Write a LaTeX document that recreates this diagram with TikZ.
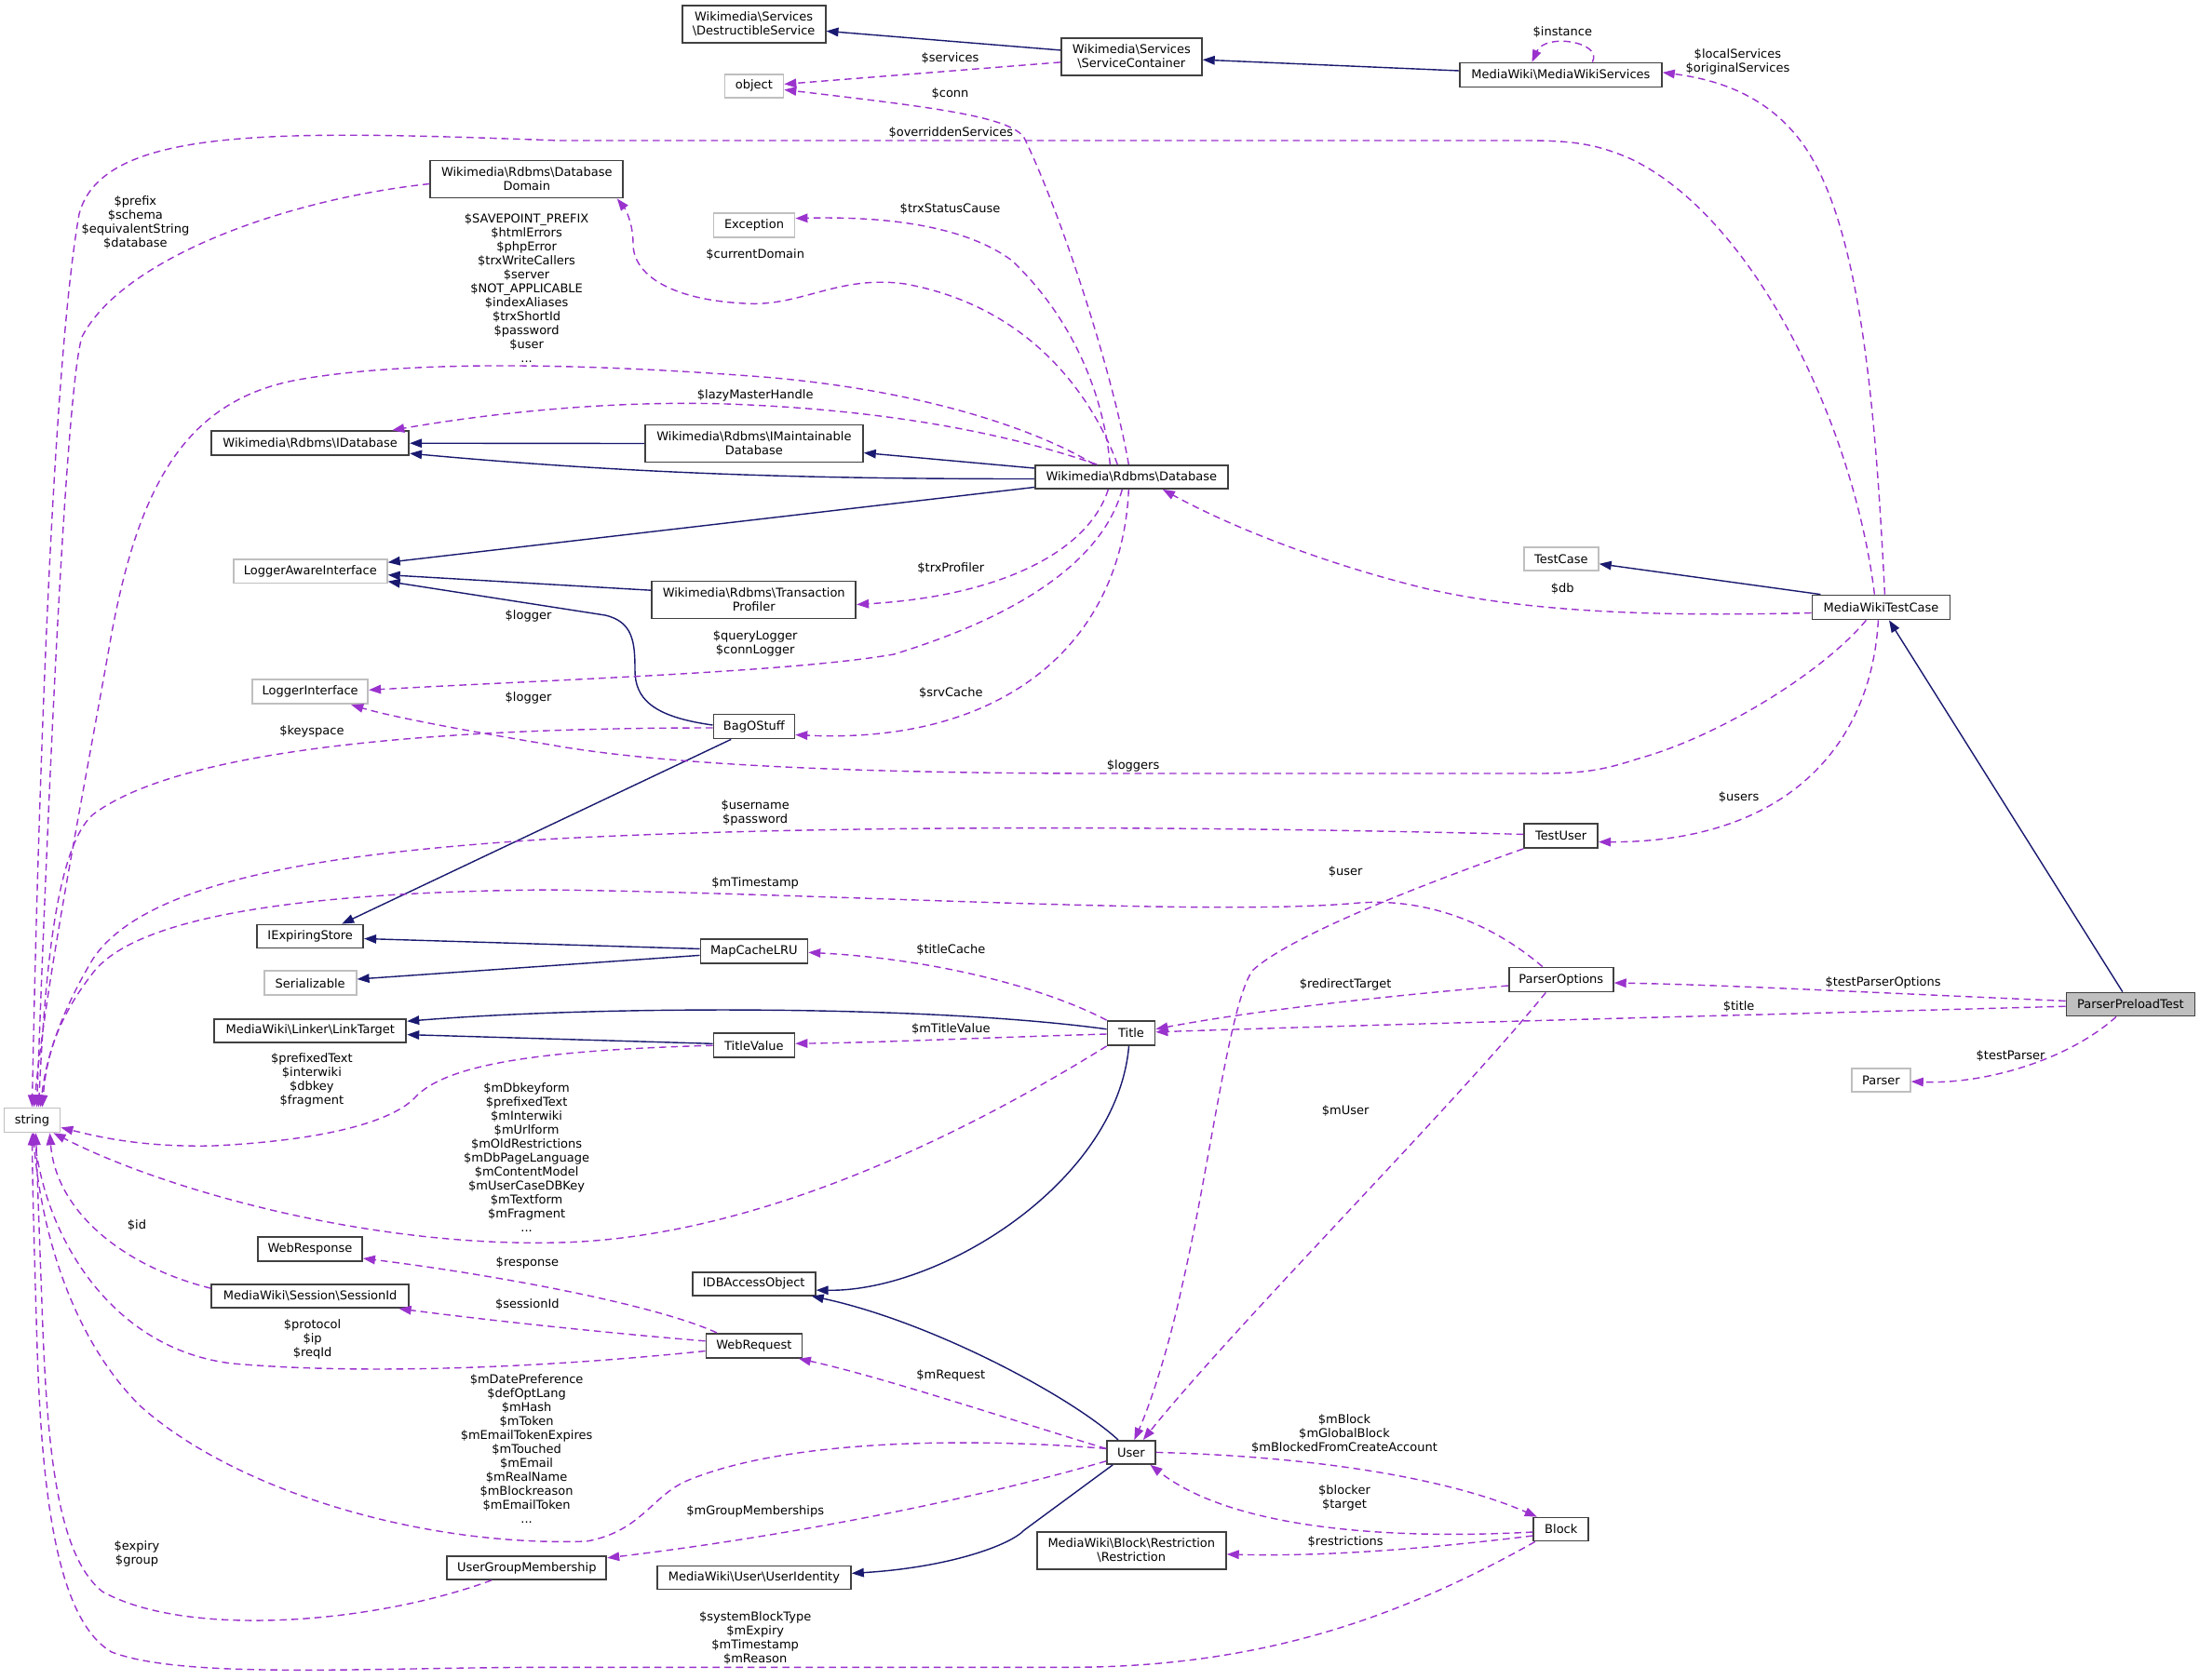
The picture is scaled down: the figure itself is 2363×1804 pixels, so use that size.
\documentclass[tikz,border=0pt]{standalone}
\usepackage{fontspec}
\setmainfont{DejaVu Sans}
\usetikzlibrary{arrows.meta}
\definecolor{inhc}{HTML}{191970}
\definecolor{usec}{HTML}{9A32CD}
\definecolor{bdrc}{HTML}{404040}
\definecolor{gbdrc}{HTML}{BFBFBF}
\newcommand{\bsl}{\textbackslash}
\begin{document}
\begin{tikzpicture}[x=1pt,y=-1pt,
  font=\fontsize{13}{15}\selectfont,
  cls/.style={draw=bdrc, line width=1.8pt, fill=white, inner sep=0pt, align=center},
  ext/.style={draw=gbdrc, line width=1.8pt, fill=white, inner sep=0pt, align=center},
  inh/.style={draw=inhc, line width=1.4pt, -{Triangle[length=13pt,width=9.5pt]}},
  usg/.style={draw=usec, line width=1.4pt, dash pattern=on 7.5pt off 5pt, -{Triangle[length=13pt,width=9.5pt]}},
  lbl/.style={align=center, inner sep=0pt},
]
\fill[white] (0,0) rectangle (2363,1804);
\useasboundingbox (0,0) rectangle (2363,1804);

% ---------------- nodes ----------------
\node[cls, minimum width=154pt, minimum height=40pt] (DS) at (809.6,25.9) {Wikimedia\bsl Services\\\bsl DestructibleService};
\node[cls, minimum width=151pt, minimum height=40pt] (SC) at (1215.3,60.9) {Wikimedia\bsl Services\\\bsl ServiceContainer};
\node[cls, minimum width=217pt, minimum height=26pt] (MWS) at (1676.4,80.5) {MediaWiki\bsl MediaWikiServices};
\node[ext, minimum width=63pt, minimum height=25pt] (object) at (809.9,92.4) {object};
\node[cls, minimum width=207pt, minimum height=40pt] (DBD) at (565.8,192.5) {Wikimedia\bsl Rdbms\bsl Database\\Domain};
\node[ext, minimum width=87pt, minimum height=26pt] (Exc) at (810,242) {Exception};
\node[cls, minimum width=212pt, minimum height=26pt] (IDB) at (333.2,476.2) {Wikimedia\bsl Rdbms\bsl IDatabase};
\node[cls, minimum width=234pt, minimum height=40pt] (IMD) at (809.9,476.5) {Wikimedia\bsl Rdbms\bsl IMaintainable\\Database};
\node[cls, minimum width=207pt, minimum height=25pt] (DB) at (1215.3,512.5) {Wikimedia\bsl Rdbms\bsl Database};
\node[ext, minimum width=165pt, minimum height=25.5pt] (LAI) at (333.3,613.7) {LoggerAwareInterface};
\node[cls, minimum width=219pt, minimum height=40pt] (TP) at (809.7,644.5) {Wikimedia\bsl Rdbms\bsl Transaction\\Profiler};
\node[ext, minimum width=80pt, minimum height=25pt] (TC) at (1676.8,600.3) {TestCase};
\node[cls, minimum width=148pt, minimum height=26pt] (MWTC) at (2020.4,652.5) {MediaWikiTestCase};
\node[ext, minimum width=124pt, minimum height=26pt] (LI) at (333.2,743.3) {LoggerInterface};
\node[cls, minimum width=87pt, minimum height=26pt] (BOS) at (809.9,780.5) {BagOStuff};
\node[cls, minimum width=79pt, minimum height=26pt] (TU) at (1676.6,898) {TestUser};
\node[cls, minimum width=114pt, minimum height=25pt] (IES) at (333.2,1006) {IExpiringStore};
\node[cls, minimum width=115pt, minimum height=26pt] (MCL) at (809.9,1021.7) {MapCacheLRU};
\node[ext, minimum width=99pt, minimum height=26pt] (Ser) at (333.2,1056.3) {Serializable};
\node[cls, minimum width=112pt, minimum height=26pt] (PO) at (1676.8,1052.5) {ParserOptions};
\node[cls, minimum width=206pt, minimum height=25pt] (LT) at (333.3,1107.1) {MediaWiki\bsl Linker\bsl LinkTarget};
\node[cls, minimum width=87pt, minimum height=26pt] (TV) at (809.9,1123.2) {TitleValue};
\node[cls, minimum width=51pt, minimum height=26pt] (Title) at (1215,1110) {Title};
\node[cls, fill=gbdrc, minimum width=138pt, minimum height=25pt] (PPT) at (2288.4,1079) {ParserPreloadTest};
\node[ext, minimum width=63pt, minimum height=25pt] (Parser) at (2020.4,1160.4) {Parser};
\node[ext, minimum width=60pt, minimum height=26pt] (str) at (34.5,1203.4) {string};
\node[cls, minimum width=112pt, minimum height=26pt] (WResp) at (333,1342) {WebResponse};
\node[cls, minimum width=132pt, minimum height=25pt] (IDBAO) at (809.7,1379.1) {IDBAccessObject};
\node[cls, minimum width=212pt, minimum height=25pt] (SID) at (333.2,1392.6) {MediaWiki\bsl Session\bsl SessionId};
\node[cls, minimum width=103pt, minimum height=26pt] (WReq) at (809.9,1445.8) {WebRequest};
\node[cls, minimum width=52pt, minimum height=25pt] (User) at (1215,1560.4) {User};
\node[cls, minimum width=59pt, minimum height=25pt] (Block) at (1676.8,1643) {Block};
\node[cls, minimum width=203pt, minimum height=40pt] (Restr) at (1215.3,1665.9) {MediaWiki\bsl Block\bsl Restriction\\\bsl Restriction};
\node[cls, minimum width=171pt, minimum height=25pt] (UGM) at (565.8,1684.4) {UserGroupMembership};
\node[cls, minimum width=208pt, minimum height=25pt] (UId) at (809.9,1695) {MediaWiki\bsl User\bsl UserIdentity};

% ---------------- inheritance ----------------
\draw[inh] ([shift={(0,-7)}]SC.west) -- ([shift={(0,7.5)}]DS.east);
\draw[inh] ([shift={(0,-4.5)}]MWS.west) -- ([shift={(0,3.3)}]SC.east);
\draw[inh] (IMD.west) -- (IDB.east);
\draw[inh] ([shift={(0,2)}]DB.west) .. controls (900,514.5) and (700,511) .. ([shift={(0,11)}]IDB.east);
\draw[inh] ([shift={(0,-9.5)}]DB.west) -- ([shift={(0,10)}]IMD.east);
\draw[inh] ([shift={(0,11)}]DB.west) -- ([shift={(0,-9.5)}]LAI.east);
\draw[inh] ([shift={(0,-10.3)}]TP.west) -- ([shift={(0,4)}]LAI.east);
\draw[inh] ([shift={(0,-1.5)}]BOS.west) .. controls (700,770) and (682,750) .. (682,720) .. controls (682,690) and (680,668) .. (650,661) -- ([shift={(0,11)}]LAI.east);
\draw[inh] ([shift={(-24.7,0)}]BOS.south) -- ([shift={(34,0)}]IES.north);
\draw[inh] ([shift={(0,-2.3)}]MCL.west) -- ([shift={(0,2.5)}]IES.east);
\draw[inh] ([shift={(0,4.7)}]MCL.west) -- ([shift={(0,-4.3)}]Ser.east);
\draw[inh] ([shift={(0,-4.3)}]Title.west) .. controls (1000,1080) and (650,1080) .. ([shift={(0,-9.9)}]LT.east);
\draw[inh] ([shift={(0,-1.9)}]TV.west) -- ([shift={(0,4.5)}]LT.east);
\draw[inh] ([shift={(-2.5,0)}]Title.south) .. controls (1200,1270) and (1010,1388) .. ([shift={(0,7)}]IDBAO.east);
\draw[inh] ([shift={(-14,0)}]User.north) .. controls (1150,1500) and (1000,1420) .. ([shift={(62,0)}]IDBAO.south);
\draw[inh] ([shift={(-19.7,0)}]User.south) -- (1100,1644) .. controls (1085,1660) and (1020,1684) .. ([shift={(0,-4.6)}]UId.east);
\draw[inh] ([shift={(-8.6,0)}]PPT.north) -- ([shift={(8.6,0)}]MWTC.south);
\draw[inh] ([shift={(-65,0)}]MWTC.north) -- ([shift={(0,5.5)}]TC.east);

% ---------------- usage ----------------
\draw[usg] ([shift={(0,6)}]SC.west) -- ([shift={(0,-2)}]object.east);
\draw[usg] ([shift={(-3,0)}]DB.north) .. controls (1195,400) and (1140,230) .. (1100,148) .. controls (1085,125) and (1000,115) .. ([shift={(0,4)}]object.east);
\draw[usg] ([shift={(-23,0)}]DB.north) .. controls (1185,420) and (1150,340) .. (1087,280) .. controls (1040,245) and (960,232) .. ([shift={(0,-7.4)}]Exc.east);
\draw[usg] ([shift={(-15,0)}]DB.north) .. controls (1175,430) and (1110,330) .. (972,305) .. controls (900,295) and (860,330) .. (800,326) .. controls (720,322) and (680,295) .. (680,262) .. controls (680,240) and (672,225) .. ([shift={(97,0)}]DBD.south);
\draw[usg] ([shift={(-40,0)}]DB.north) .. controls (1120,465) and (1000,420) .. (820,405) .. controls (650,392) and (450,385) .. (320,408) .. controls (200,430) and (150,520) .. (120,680) .. controls (90,850) and (50,1050) .. ([shift={(2,0)}]str.north);
\draw[usg] ([shift={(-37,0)}]DB.north) .. controls (1080,465) and (950,440) .. (780,434) .. controls (650,430) and (520,445) .. ([shift={(88,0)}]IDB.north);
\draw[usg] ([shift={(-25,0)}]DB.south) .. controls (1170,590) and (1080,640) .. ([shift={(0,5)}]TP.east);
\draw[usg] ([shift={(-10,0)}]DB.south) .. controls (1185,600) and (1100,660) .. (960,703) .. controls (850,722) and (600,730) .. ([shift={(0,-2)}]LI.east);
\draw[usg] ([shift={(-3,0)}]DB.south) .. controls (1205,690) and (1080,800) .. ([shift={(0,9)}]BOS.east);
\draw[usg] ([shift={(0,6)}]MWTC.west) .. controls (1800,662) and (1650,660) .. (1530,632) .. controls (1420,605) and (1320,565) .. ([shift={(33.6,0)}]DB.south);
\draw[usg] ([shift={(34,0)}]MWS.north) .. controls (1722,45) and (1660,35) .. ([shift={(-31,0)}]MWS.north);
\draw[usg] ([shift={(4,0)}]MWTC.north) .. controls (2015,450) and (2000,250) .. (1940,160) .. controls (1900,100) and (1840,85) .. ([shift={(0,-2.7)}]MWS.east);
\draw[usg] ([shift={(-7,0)}]MWTC.north) .. controls (1990,450) and (1880,230) .. (1750,170) .. controls (1715,155) and (1690,151) .. (1640,151) -- (600,151) .. controls (300,140) and (110,135) .. (85,230) .. controls (55,400) and (40,900) .. (str.north);
\draw[usg] ([shift={(-16,0)}]MWTC.south) .. controls (1960,720) and (1850,790) .. (1760,815) .. controls (1720,828) and (1700,831) .. (1650,831) -- (1190,831) .. controls (900,831) and (700,820) .. (590,800) .. controls (500,785) and (420,770) .. ([shift={(44,0)}]LI.south);
\draw[usg] ([shift={(-3,0)}]MWTC.south) .. controls (2010,800) and (1920,905) .. ([shift={(0,6.6)}]TU.east);
\draw[usg] ([shift={(0,5)}]DBD.west) .. controls (300,215) and (130,280) .. (88,362) .. controls (70,420) and (50,900) .. ([shift={(5,0)}]str.north);
\draw[usg] ([shift={(0,1.5)}]BOS.west) .. controls (500,782) and (200,800) .. (100,875) .. controls (60,910) and (48,1050) .. ([shift={(7,0)}]str.north);
\draw[usg] ([shift={(0,-1.6)}]TU.west) .. controls (1300,888) and (900,885) .. (590,901.5) .. controls (380,915) and (160,940) .. (100,1030) .. controls (70,1080) and (50,1130) .. ([shift={(9,0)}]str.north);
\draw[usg] ([shift={(-20,0)}]PO.north) .. controls (1600,990) and (1530,965) .. (1460,970) .. controls (1300,985) and (900,960) .. (590,956) .. controls (350,958) and (150,980) .. (100,1045) .. controls (65,1090) and (50,1130) .. ([shift={(11,0)}]str.north);
\draw[usg] (TU.south west) .. controls (1500,960) and (1380,1010) .. (1345,1043) .. controls (1320,1080) and (1300,1250) .. (1270,1380) .. controls (1255,1450) and (1235,1510) .. ([shift={(3.3,0)}]User.north);
\draw[usg] ([shift={(0,6.5)}]PO.west) .. controls (1500,1069) and (1350,1085) .. ([shift={(0,-4.3)}]Title.east);
\draw[usg] ([shift={(-16.5,0)}]PO.south) .. controls (1560,1190) and (1330,1420) .. ([shift={(12.8,0)}]User.north);
\draw[usg] ([shift={(0,-3.6)}]PPT.west) .. controls (2000,1066) and (1850,1058) .. ([shift={(0,3.5)}]PO.east);
\draw[usg] ([shift={(0,2.2)}]PPT.west) .. controls (1900,1090) and (1500,1100) .. ([shift={(0,-1.2)}]Title.east);
\draw[usg] ([shift={(-15.4,0)}]PPT.south) .. controls (2220,1140) and (2130,1165) .. ([shift={(0,1.6)}]Parser.east);
\draw[usg] (Title.north west) .. controls (1120,1060) and (1000,1030) .. ([shift={(0,1.6)}]MCL.east);
\draw[usg] ([shift={(0,1)}]Title.west) .. controls (1050,1115) and (950,1120) .. ([shift={(0,-2)}]TV.east);
\draw[usg] (Title.south west) .. controls (1050,1210) and (820,1330) .. (600,1335) .. controls (400,1340) and (180,1280) .. ([shift={(23,0)}]str.south);
\draw[usg] (TV.west) .. controls (600,1128) and (480,1140) .. (445,1180) .. controls (420,1205) and (350,1225) .. (230,1231) .. controls (150,1233) and (100,1220) .. ([shift={(0,8)}]str.east);
\draw[usg] ([shift={(-40,0)}]WReq.north) .. controls (700,1400) and (520,1368) .. ([shift={(0,10)}]WResp.east);
\draw[usg] ([shift={(0,-5)}]WReq.west) .. controls (650,1432) and (520,1418) .. ([shift={(95.4,0)}]SID.south);
\draw[usg] ([shift={(0,5.7)}]WReq.west) .. controls (600,1468) and (400,1478) .. (250,1465) .. controls (120,1450) and (50,1330) .. ([shift={(2,0)}]str.south);
\draw[usg] ([shift={(0,-8.5)}]SID.west) .. controls (130,1360) and (60,1300) .. ([shift={(19,0)}]str.south);
\draw[usg] ([shift={(0,-4)}]User.west) .. controls (1100,1530) and (950,1480) .. ([shift={(48,0)}]WReq.south);
\draw[usg] ([shift={(0,-4)}]User.west) .. controls (1050,1545) and (850,1545) .. (740,1590) .. controls (700,1606) and (690,1645) .. (630,1656) .. controls (450,1662) and (250,1600) .. (150,1510) .. controls (80,1440) and (45,1330) .. ([shift={(1,0)}]str.south);
\draw[usg] ([shift={(0,9.4)}]User.west) .. controls (1050,1610) and (850,1650) .. ([shift={(0,-10.6)}]UGM.east);
\draw[usg] (User.east) .. controls (1420,1565) and (1560,1590) .. ([shift={(-26,0)}]Block.north);
\draw[usg] ([shift={(0,3)}]Block.west) .. controls (1480,1655) and (1320,1640) .. ([shift={(20.5,0)}]User.south);
\draw[usg] ([shift={(0,7)}]Block.west) .. controls (1500,1668) and (1400,1672) .. ([shift={(0,4)}]Restr.east);
\draw[usg] ([shift={(-28,0)}]Block.south) .. controls (1500,1740) and (1350,1791) .. (1150,1791.3) -- (600,1791.3) .. controls (400,1791) and (200,1805) .. (120,1775) .. controls (60,1740) and (45,1600) .. (40,1450) .. controls (37,1350) and (35,1280) .. (str.south);
\draw[usg] ([shift={(-37.8,0)}]UGM.south) .. controls (400,1745) and (200,1760) .. (110,1710) .. controls (60,1670) and (50,1550) .. (45,1400) .. controls (42,1320) and (40,1260) .. ([shift={(4,0)}]str.south);

% ---------------- labels ----------------
\node[lbl] (l1) at (1020.5,62.2) {\$services};
\node[lbl] (l2) at (1020.5,100.4) {\$conn};
\node[lbl] (l3) at (1021.3,142.4) {\$overriddenServices};
\node[lbl] (l4) at (1020.5,224.5) {\$trxStatusCause};
\node[lbl] (l5) at (811.2,273.5) {\$currentDomain};
\node[lbl] (l6) at (811.2,425.2) {\$lazyMasterHandle};
\node[lbl] (l7) at (145.4,239) {\$prefix\\\$schema\\\$equivalentString\\\$database};
\node[lbl] (l8) at (565.6,310) {\$SAVEPOINT\_PREFIX\\\$htmlErrors\\\$phpError\\\$trxWriteCallers\\\$server\\\$NOT\_APPLICABLE\\\$indexAliases\\\$trxShortId\\\$password\\\$user\\...};
\node[lbl] (l9) at (1678.3,34.2) {\$instance};
\node[lbl] (l10) at (1866.4,66) {\$localServices\\\$originalServices};
\node[lbl] (l11) at (1021.3,610.5) {\$trxProfiler};
\node[lbl] (l12) at (567.5,661.5) {\$logger};
\node[lbl] (l13) at (811.2,691.4) {\$queryLogger\\\$connLogger};
\node[lbl] (l14) at (1678.3,632.3) {\$db};
\node[lbl] (l15) at (1021.3,744.3) {\$srvCache};
\node[lbl] (l16) at (567.5,750.2) {\$logger};
\node[lbl] (l17) at (334.9,786.3) {\$keyspace};
\node[lbl] (l18) at (1217.1,822.5) {\$loggers};
\node[lbl] (l19) at (1867.6,856.8) {\$users};
\node[lbl] (l20) at (811.2,873.9) {\$username\\\$password};
\node[lbl] (l21) at (1445.2,936.5) {\$user};
\node[lbl] (l22) at (811.2,949.3) {\$mTimestamp};
\node[lbl] (l23) at (1021.3,1021) {\$titleCache};
\node[lbl] (l24) at (2022.6,1056.3) {\$testParserOptions};
\node[lbl] (l25) at (1445.2,1058.3) {\$redirectTarget};
\node[lbl] (l26) at (1867.6,1081.2) {\$title};
\node[lbl] (l27) at (1021.3,1105.4) {\$mTitleValue};
\node[lbl] (l28) at (2159.6,1134.5) {\$testParser};
\node[lbl] (l29) at (334.9,1160.4) {\$prefixedText\\\$interwiki\\\$dbkey\\\$fragment};
\node[lbl] (l30) at (1445.2,1193.3) {\$mUser};
\node[lbl] (l31) at (565.6,1243.2) {\$mDbkeyform\\\$prefixedText\\\$mInterwiki\\\$mUrlform\\\$mOldRestrictions\\\$mDbPageLanguage\\\$mContentModel\\\$mUserCaseDBKey\\\$mTextform\\\$mFragment\\...};
\node[lbl] (l32) at (147,1316) {\$id};
\node[lbl] (l33) at (566.4,1356.4) {\$response};
\node[lbl] (l34) at (566.4,1401) {\$sessionId};
\node[lbl] (l35) at (335.6,1438.8) {\$protocol\\\$ip\\\$reqId};
\node[lbl] (l36) at (1021.3,1477.4) {\$mRequest};
\node[lbl] (l37) at (565.6,1557) {\$mDatePreference\\\$defOptLang\\\$mHash\\\$mToken\\\$mEmailTokenExpires\\\$mTouched\\\$mEmail\\\$mRealName\\\$mBlockreason\\\$mEmailToken\\...};
\node[lbl] (l38) at (1444,1540.1) {\$mBlock\\\$mGlobalBlock\\\$mBlockedFromCreateAccount};
\node[lbl] (l39) at (1444,1608.9) {\$blocker\\\$target};
\node[lbl] (l40) at (811.2,1624.1) {\$mGroupMemberships};
\node[lbl] (l41) at (1445.2,1656.5) {\$restrictions};
\node[lbl] (l42) at (147,1669) {\$expiry\\\$group};
\node[lbl] (l43) at (811.2,1760.4) {\$systemBlockType\\\$mExpiry\\\$mTimestamp\\\$mReason};
\end{tikzpicture}
\end{document}
